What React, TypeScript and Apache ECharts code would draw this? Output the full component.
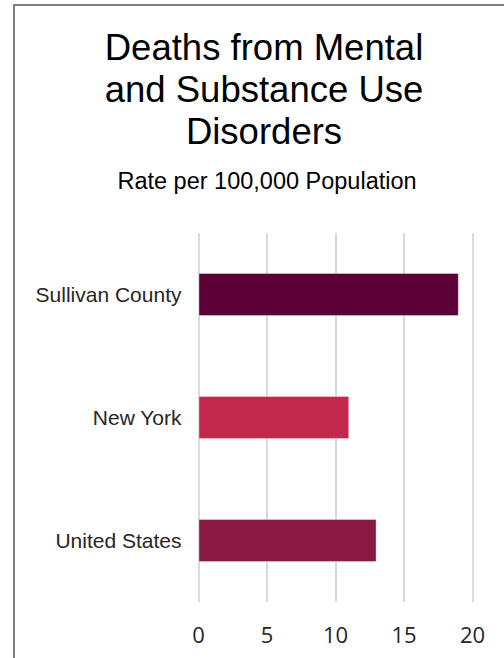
import React, { useEffect, useRef } from "react";
import * as echarts from "echarts";

const categories = ["Sullivan County", "New York", "United States"];
const values = [19, 11, 13];
const barColors = ["#5D0038", "#C2284C", "#8A1A43"];
const titleLines = ["Deaths from Mental", "and Substance Use", "Disorders"];
const subtitle = "Rate per 100,000 Population";

export default function App() {
  const ref = useRef<HTMLDivElement>(null);
  useEffect(() => {
    if (!ref.current) return;
    const chart = echarts.init(ref.current, null, { renderer: "svg" });
    chart.setOption({
      animation: false,
      backgroundColor: "#ffffff",
      graphic: [
        {
          type: "rect",
          shape: { x: 14, y: 5, width: 560, height: 720 },
          style: { fill: "none", stroke: "#7f7f7f", lineWidth: 2 },
          silent: true,
        },
        ...titleLines.map((t, i) => ({
          type: "text",
          x: 264,
          y: 47 + i * 42,
          style: {
            text: t,
            fontFamily: "'Liberation Sans', Arial, sans-serif",
            fontSize: 36.5,
            fill: "#000000",
            textAlign: "center",
            textVerticalAlign: "middle",
          },
        })),
        {
          type: "text",
          x: 267,
          y: 181,
          style: {
            text: subtitle,
            fontFamily: "'Liberation Sans', Arial, sans-serif",
            fontSize: 23.5,
            fill: "#000000",
            textAlign: "center",
            textVerticalAlign: "middle",
          },
        },
      ],
      grid: { left: 198.5, right: 31.5, top: 233, bottom: 56, containLabel: false },
      xAxis: {
        type: "value",
        min: 0,
        max: 20,
        interval: 5,
        axisLine: { show: false },
        axisTick: { show: false },
        splitLine: { show: true, lineStyle: { color: "#d9d9d9", width: 2 } },
        axisLabel: {
          margin: 21,
          fontFamily: "'Open Sans', sans-serif",
          fontSize: 22,
          color: "#262626",
        },
      },
      yAxis: {
        type: "category",
        data: categories,
        inverse: true,
        axisLine: { show: false },
        axisTick: { show: false },
        splitLine: { show: false },
        axisLabel: {
          margin: 17,
          fontFamily: "'Liberation Sans', Arial, sans-serif",
          fontSize: 21,
          color: "#262626",
        },
      },
      series: [
        {
          type: "bar",
          barWidth: 43,
          data: values.map((v, i) => ({
            value: v,
            itemStyle: {
              color: barColors[i],
              borderColor: "rgba(255,255,255,0.35)",
              borderWidth: 1,
            },
          })),
        },
      ],
    });
    return () => chart.dispose();
  }, []);
  return (
    <div
      ref={ref}
      style={{ position: "fixed", left: 0, top: 0, width: 504, height: 658 }}
    />
  );
}
